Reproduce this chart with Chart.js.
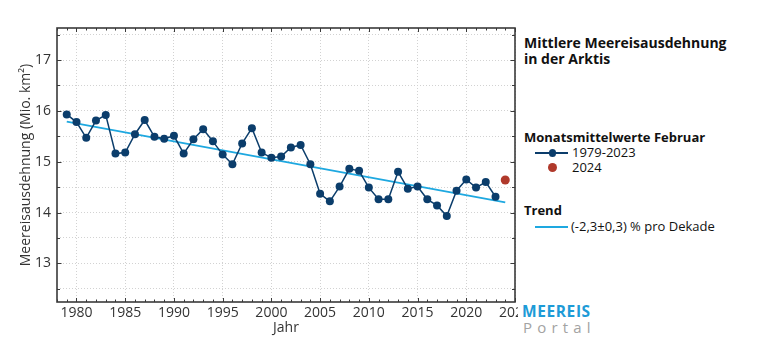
<!DOCTYPE html>
<html>
<head>
<meta charset="utf-8">
<script src="https://cdn.jsdelivr.net/npm/chart.js@4/dist/chart.umd.min.js"></script>
<style>
  html,body{margin:0;padding:0;background:#fff;}
  #wrap{position:relative;width:757px;height:356px;overflow:hidden;font-family:"Open Sans",sans-serif;}
  canvas{position:absolute;left:0;top:0;}
  #panel{position:absolute;left:518px;top:0;width:239px;height:356px;background:#fff;}
  .t{position:absolute;white-space:nowrap;line-height:1;color:#111;}
  .b{font-weight:700;}
</style>
</head>
<body>
<div id="wrap">
  <canvas id="c" width="757" height="356"></canvas>
  <div id="panel"></div>
  <div class="t b" style="left:524px;top:36px;font-size:14px;">Mittlere Meereisausdehnung</div>
  <div class="t b" style="left:524px;top:51.6px;font-size:14px;">in der Arktis</div>
  <div class="t b" style="left:524px;top:131px;font-size:13px;">Monatsmittelwerte Februar</div>
  <div style="position:absolute;left:535px;top:152px;width:33px;height:1.5px;background:#0b3d6b;"></div>
  <div style="position:absolute;left:548.5px;top:149px;width:7.5px;height:7.5px;border-radius:50%;background:#0b3d6b;"></div>
  <div class="t" style="left:572px;top:146px;font-size:13px;">1979-2023</div>
  <div style="position:absolute;left:547.5px;top:163px;width:9px;height:9px;border-radius:50%;background:#b0392b;"></div>
  <div class="t" style="left:572px;top:161px;font-size:13px;">2024</div>
  <div class="t b" style="left:524px;top:204.4px;font-size:13px;">Trend</div>
  <div style="position:absolute;left:535px;top:226px;width:33px;height:1.5px;background:#1ea8e0;"></div>
  <div class="t" style="left:571px;top:220px;font-size:13px;">(-2,3±0,3) % pro Dekade</div>
  <div class="t b" style="left:522px;top:304px;font-size:15.5px;color:#1d9bd7;letter-spacing:0.6px;">MEEREIS</div>
  <div class="t" style="left:523px;top:319.5px;font-size:15px;color:#a3a3a3;letter-spacing:5.2px;">Portal</div>
</div>
<script>
const years = [1979,1980,1981,1982,1983,1984,1985,1986,1987,1988,1989,1990,1991,1992,1993,1994,1995,1996,1997,1998,1999,2000,2001,2002,2003,2004,2005,2006,2007,2008,2009,2010,2011,2012,2013,2014,2015,2016,2017,2018,2019,2020,2021,2022,2023];
const extent = [15.93,15.78,15.47,15.81,15.92,15.16,15.18,15.54,15.82,15.49,15.45,15.51,15.16,15.44,15.64,15.40,15.14,14.95,15.36,15.66,15.18,15.08,15.10,15.28,15.33,14.95,14.37,14.22,14.51,14.86,14.82,14.49,14.26,14.26,14.80,14.47,14.51,14.26,14.14,13.93,14.43,14.65,14.49,14.60,14.31];
const years2024 = [2024];
const extent2024 = [14.64];
const trendYears = [1979, 2024];
const trendValues = [15.79, 14.20];
const xTickLabels = [1980,1985,1990,1995,2000,2005,2010,2015,2020,2025];
const yGridValues = [12.5,13,13.5,14,14.5,15,15.5,16,16.5,17,17.5];

const FONT = '"Open Sans", sans-serif';
const TXT = '#333';

const framePlugin = {
  id: 'frame',
  afterDatasetsDraw(chart) {
    const {ctx, chartArea: {left, right, top, bottom}, scales: {x, y}} = chart;
    ctx.save();
    ctx.strokeStyle = '#3a3a3a';
    ctx.lineWidth = 1;
    ctx.beginPath();
    for (let yr = Math.ceil(x.min); yr <= x.max; yr++) {
      const px = Math.round(x.getPixelForValue(yr)) + 0.5;
      const len = yr % 5 === 0 ? 4 : 2.5;
      ctx.moveTo(px, bottom); ctx.lineTo(px, bottom - len);
      ctx.moveTo(px, top); ctx.lineTo(px, top + len);
    }
    yGridValues.forEach(v => {
      const py = Math.round(y.getPixelForValue(v)) + 0.5;
      const len = Number.isInteger(v) ? 4.5 : 3;
      ctx.moveTo(left, py); ctx.lineTo(left + len, py);
      ctx.moveTo(right, py); ctx.lineTo(right - len, py);
    });
    ctx.stroke();
    ctx.lineWidth = 1.6;
    ctx.strokeRect(left, top, right - left, bottom - top);
    ctx.restore();
  }
};

new Chart(document.getElementById('c'), {
  type: 'line',
  data: {
    datasets: [
      {
        data: trendYears.map((v, i) => ({x: v, y: trendValues[i]})),
        borderColor: '#1ea8e0', borderWidth: 1.8, pointRadius: 0, order: 3
      },
      {
        data: years.map((v, i) => ({x: v, y: extent[i]})),
        borderColor: '#0b3d6b', borderWidth: 1.5,
        pointRadius: 4, pointBackgroundColor: '#0b3d6b', pointBorderWidth: 0, order: 2
      },
      {
        data: years2024.map((v, i) => ({x: v, y: extent2024[i]})),
        showLine: false, pointRadius: 4.5, pointBackgroundColor: '#b0392b',
        pointBorderWidth: 0, borderColor: '#b0392b', order: 1
      }
    ]
  },
  options: {
    responsive: false,
    animation: false,
    layout: {padding: {left: 0, top: 28, right: 242, bottom: 0}},
    plugins: {legend: {display: false}, tooltip: {enabled: false}},
    scales: {
      x: {
        type: 'linear', min: 1978, max: 2025,
        afterBuildTicks: s => { s.ticks = xTickLabels.map(v => ({value: v})); },
        afterFit: s => { s.height = 54; },
        ticks: {autoSkip: false, maxRotation: 0, padding: 3, color: TXT,
                font: {family: FONT, size: 14}, callback: v => String(v)},
        grid: {color: '#d2d2d2', lineWidth: 1, drawTicks: false},
        border: {display: false, dash: [1, 2]},
        title: {display: true, text: 'Jahr', color: TXT, font: {family: FONT, size: 14},
                padding: {top: 0, bottom: 20}}
      },
      y: {
        type: 'linear', min: 12.24, max: 17.63,
        afterBuildTicks: s => { s.ticks = yGridValues.map(v => ({value: v})); },
        afterFit: s => { s.width = 57; },
        ticks: {autoSkip: false, padding: 6, color: TXT, font: {family: FONT, size: 14},
                callback: v => Number.isInteger(v) ? String(v) : ''},
        grid: {color: '#d2d2d2', lineWidth: 1, drawTicks: false},
        border: {display: false, dash: [1, 2]},
        title: {display: true, text: 'Meereisausdehnung (Mio. km²)', color: TXT,
                font: {family: FONT, size: 14}, padding: {top: 18, bottom: 0}}
      }
    }
  },
  plugins: [framePlugin]
});
</script>
</body>
</html>
